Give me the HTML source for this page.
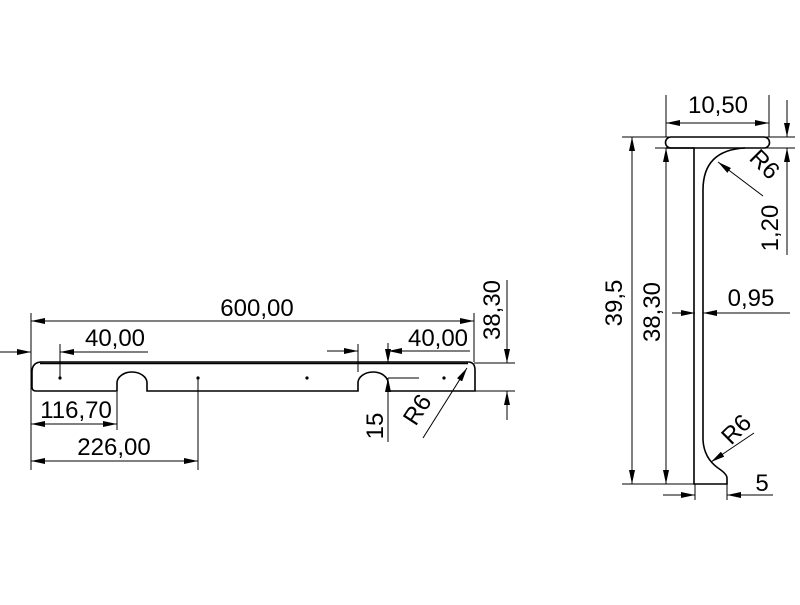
<!DOCTYPE html>
<html><head><meta charset="utf-8"><style>html,body{margin:0;padding:0;background:#fff}</style></head>
<body>
<svg width="800" height="600" viewBox="0 0 800 600" xmlns="http://www.w3.org/2000/svg" font-family="Liberation Sans, sans-serif" font-size="24" fill="none" stroke="#000">
<defs>
<marker id="a" viewBox="0 0 14 6" refX="14" refY="3" markerWidth="14" markerHeight="6" markerUnits="userSpaceOnUse" orient="auto">
<path d="M0,0 L14,3 L0,6 Z" fill="#000" stroke="none"/>
</marker>
</defs>
<g stroke-width="1">
<path d="M40,362 H468 Q475,362 475,370 V391 H388 V383 A15,11 0 0 0 358,383 V391 H147 V383 A15,11 0 0 0 117,383 V391 H36 Q32,391 32,387 V372 Q32,362 42,362" stroke-width="1.6"/>
<line x1="40" y1="363.5" x2="468" y2="363.5" stroke-width="1.6"/>
<g fill="#000" stroke="none">
<circle cx="60" cy="378" r="1.6"/><circle cx="198" cy="378" r="1.6"/><circle cx="307" cy="378" r="1.6"/><circle cx="444" cy="378" r="1.6"/>
</g>
<line x1="31" y1="313" x2="31" y2="470"/>
<line x1="474" y1="313" x2="474" y2="362"/>
<line x1="60" y1="344" x2="60" y2="378"/>
<line x1="117" y1="392" x2="117" y2="430"/>
<line x1="198" y1="378" x2="198" y2="470"/>
<line x1="358" y1="344" x2="358" y2="372"/>
<line x1="388" y1="378" x2="419" y2="378"/>
<line x1="474" y1="363" x2="515" y2="363"/>
<line x1="474" y1="391" x2="515" y2="391"/>
<line x1="31" y1="321" x2="474" y2="321" marker-end="url(#a)"/>
<line x1="474" y1="321" x2="31" y2="321" marker-end="url(#a)"/>
<line x1="0" y1="352" x2="31" y2="352" marker-end="url(#a)"/>
<line x1="148" y1="352" x2="60" y2="352" marker-end="url(#a)"/>
<line x1="117" y1="424" x2="31" y2="424" marker-end="url(#a)"/>
<line x1="31" y1="424" x2="117" y2="424" marker-end="url(#a)"/>
<line x1="198" y1="461" x2="31" y2="461" marker-end="url(#a)"/>
<line x1="31" y1="461" x2="198" y2="461" marker-end="url(#a)"/>
<line x1="327" y1="351" x2="358" y2="351" marker-end="url(#a)"/>
<line x1="470" y1="351" x2="388" y2="351" marker-end="url(#a)"/>
<line x1="388" y1="343" x2="388" y2="363" marker-end="url(#a)"/>
<line x1="388" y1="442" x2="388" y2="378" marker-end="url(#a)"/>
<line x1="507" y1="280" x2="507" y2="363" marker-end="url(#a)"/>
<line x1="507" y1="420" x2="507" y2="391" marker-end="url(#a)"/>
<line x1="423" y1="438" x2="467" y2="368" marker-end="url(#a)"/>

<path d="M671,137 H764 A5.5,5.5 0 0 1 764,148 H671 A5.5,5.5 0 0 1 671,137 Z" stroke-width="1.6"/>
<path d="M666,148 H694 V484 H727 V478 Q727,474 718,468 Q704,458 703,440 V190 Q703,150 745,148" stroke-width="1.6"/>
<line x1="666" y1="95" x2="666" y2="137"/>
<line x1="769" y1="95" x2="769" y2="137"/>
<line x1="622" y1="137" x2="795" y2="137"/>
<line x1="655" y1="148" x2="795" y2="148"/>
<line x1="622" y1="484" x2="727" y2="484"/>
<line x1="695" y1="484" x2="695" y2="500"/>
<line x1="727" y1="484" x2="727" y2="500"/>
<line x1="769" y1="123" x2="666" y2="123" marker-end="url(#a)"/>
<line x1="666" y1="123" x2="769" y2="123" marker-end="url(#a)"/>
<line x1="787" y1="100" x2="787" y2="137" marker-end="url(#a)"/>
<line x1="787" y1="255" x2="787" y2="148" marker-end="url(#a)"/>
<line x1="632" y1="484" x2="632" y2="137" marker-end="url(#a)"/>
<line x1="632" y1="137" x2="632" y2="484" marker-end="url(#a)"/>
<line x1="666" y1="484" x2="666" y2="148" marker-end="url(#a)"/>
<line x1="666" y1="148" x2="666" y2="484" marker-end="url(#a)"/>
<line x1="672" y1="313" x2="695" y2="313" marker-end="url(#a)"/>
<line x1="790" y1="313" x2="703" y2="313" marker-end="url(#a)"/>
<line x1="663" y1="495" x2="695" y2="495" marker-end="url(#a)"/>
<line x1="773" y1="495" x2="727" y2="495" marker-end="url(#a)"/>
<line x1="763" y1="196" x2="718" y2="162" marker-end="url(#a)"/>
<line x1="754" y1="433" x2="711" y2="462" marker-end="url(#a)"/>
</g>
<g fill="#000" stroke="none" text-anchor="middle">
<text x="257" y="316">600,00</text>
<text x="115" y="346">40,00</text>
<text x="76" y="418">116,70</text>
<text x="114" y="455">226,00</text>
<text x="438" y="346">40,00</text>
<text transform="translate(500,310) rotate(-90)">38,30</text>
<text transform="translate(383,426) rotate(-90)">15</text>
<text transform="translate(424,414) rotate(-57)">R6</text>
<text x="718" y="113">10,50</text>
<text transform="translate(778,228) rotate(-90)">1,20</text>
<text transform="translate(759,170) rotate(45)">R6</text>
<text transform="translate(622,303) rotate(-90)">39,5</text>
<text transform="translate(660,312) rotate(-90)">38,30</text>
<text x="751" y="306">0,95</text>
<text transform="translate(742,435) rotate(-45)">R6</text>
<text x="762" y="491">5</text>
</g>
</svg>
</body></html>
